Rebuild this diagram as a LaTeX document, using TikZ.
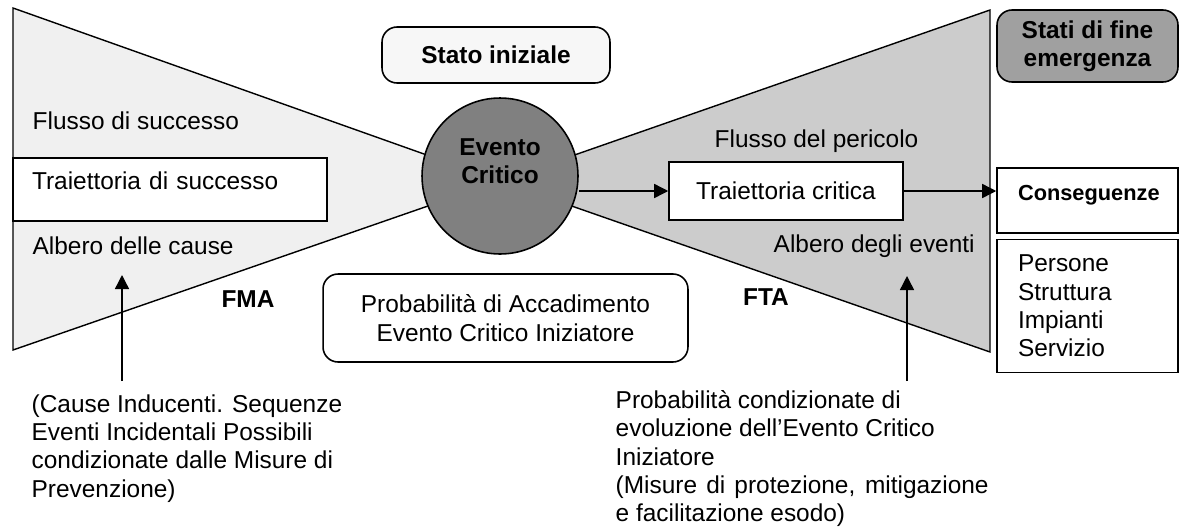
\documentclass[tikz,border=0pt]{standalone}
\usepackage{fontspec}
\setmainfont{Liberation Sans}
\usetikzlibrary{positioning,arrows.meta}
\definecolor{leftfill}{HTML}{F0F0F0}
\definecolor{rightfill}{HTML}{CCCCCC}
\definecolor{evfill}{HTML}{808080}
\definecolor{endfill}{HTML}{A0A0A0}
\definecolor{startfill}{HTML}{F7F7F7}
\newcommand{\fsz}{\fontsize{13.9pt}{16.1pt}\selectfont}
\newcommand{\fszs}{\fontsize{12.4pt}{14.5pt}\selectfont}

\begin{document}
\begin{tikzpicture}[
  x=0.02cm, y=-0.02cm,
  line width=0.8pt,
  >={Triangle[length=2.8mm,width=2.8mm]},
  every node/.style={font=\fsz, inner sep=0pt},
  ebox/.style={draw, fill=white, rectangle, line width=0.9pt},
  rbox/.style={draw, rounded corners=3mm, line width=0.9pt},
  ec/.style={draw, fill=evfill, circle, minimum size=3.12cm, line width=0.9pt},
  midbase/.style={text height=0.35cm, text depth=0.35cm},
]
\useasboundingbox (0,0) rectangle (1179,528);

% ---- the two cones, apex under the critical event ----
\coordinate (apex) at (500,181);
\filldraw[fill=leftfill] (13,8) -- (apex) -- (13,350) -- cycle;
\filldraw[fill=rightfill] (990,10) -- (apex) -- (990,352) -- cycle;

% ---- LEFT: success flow (FMA) ----
\node[anchor=base west] (fs) at (32,129) {Flusso di successo};
\node[ebox, minimum width=6.28cm, minimum height=1.26cm, text width=5.52cm, inner xsep=0.38cm, align=left, midbase] (ts) at (170,189.5) {Traiettoria di successo};
\node[anchor=base west] (ac) at (32,254) {Albero delle cause};
\node[font=\fsz\bfseries] (fma) at (248,299) {FMA};

% ---- CENTRE: critical event ----
\node[ec] (ec) at (500,176) {};
\node[font=\fsz\bfseries, align=center] (ect) at (500,161) {Evento\\Critico};
\node[rbox, fill=startfill, minimum width=4.56cm, minimum height=1.12cm, font=\fsz\bfseries] (si) at (496,55) {Stato iniziale};
\node[rbox, fill=white, minimum width=7.3cm, minimum height=1.76cm, align=center] (pa) at (505.5,318) {Probabilità di Accadimento\\Evento Critico Iniziatore};

% ---- RIGHT: hazard flow (FTA) ----
\node[anchor=base west] (fp) at (714,147) {Flusso del pericolo};
\node[ebox, minimum width=4.68cm, minimum height=1.16cm] (tc) at (786,191) {Traiettoria critica};
\node[anchor=base west] (ae) at (773,252) {Albero degli eventi};
\node[font=\fsz\bfseries] (fta) at (766,297) {FTA};

% ---- end states ----
\node[rbox, fill=endfill, minimum width=3.62cm, minimum height=1.44cm, align=center, font=\fsz\bfseries] (sf) at (1087.5,46) {Stati di fine\\emergenza};
\node[ebox, minimum width=3.62cm, minimum height=1.3cm, text width=2.78cm, inner xsep=0.42cm, align=left, midbase, font=\fszs\bfseries] (cons) at (1087.5,200.5) {Conseguenze};
\node[ebox, below=1mm of cons, minimum width=3.62cm, minimum height=2.66cm, text width=2.78cm, inner xsep=0.42cm, align=left] (dmg) {Persone\\Struttura\\Impianti\\Servizio};

\draw[->] (ec.east |- tc.west) -- (tc.west);
\draw[->] (tc.east) -- (tc.east -| cons.west);

% ---- notes below, pointing up into the cones ----
\node[anchor=north west, align=left] (cause) at (31,394) {(Cause Inducenti. Sequenze\\Eventi Incidentali Possibili\\condizionate dalle Misure di\\Prevenzione)};
\node[anchor=north west, align=left] (evo) at (615,390) {Probabilità condizionate di\\evoluzione dell'Evento Critico\\Iniziatore\\\makebox[7.46cm][s]{(Misure di protezione, mitigazione}\\e facilitazione esodo)};
\coordinate (fmaTop) at (122,275);
\coordinate (fmaBot) at (122,381);
\coordinate (ftaTop) at (907,276);
\coordinate (ftaBot) at (907,381);
\draw[->] (fmaBot) -- (fmaTop);
\draw[->] (ftaBot) -- (ftaTop);
\end{tikzpicture}
\end{document}
